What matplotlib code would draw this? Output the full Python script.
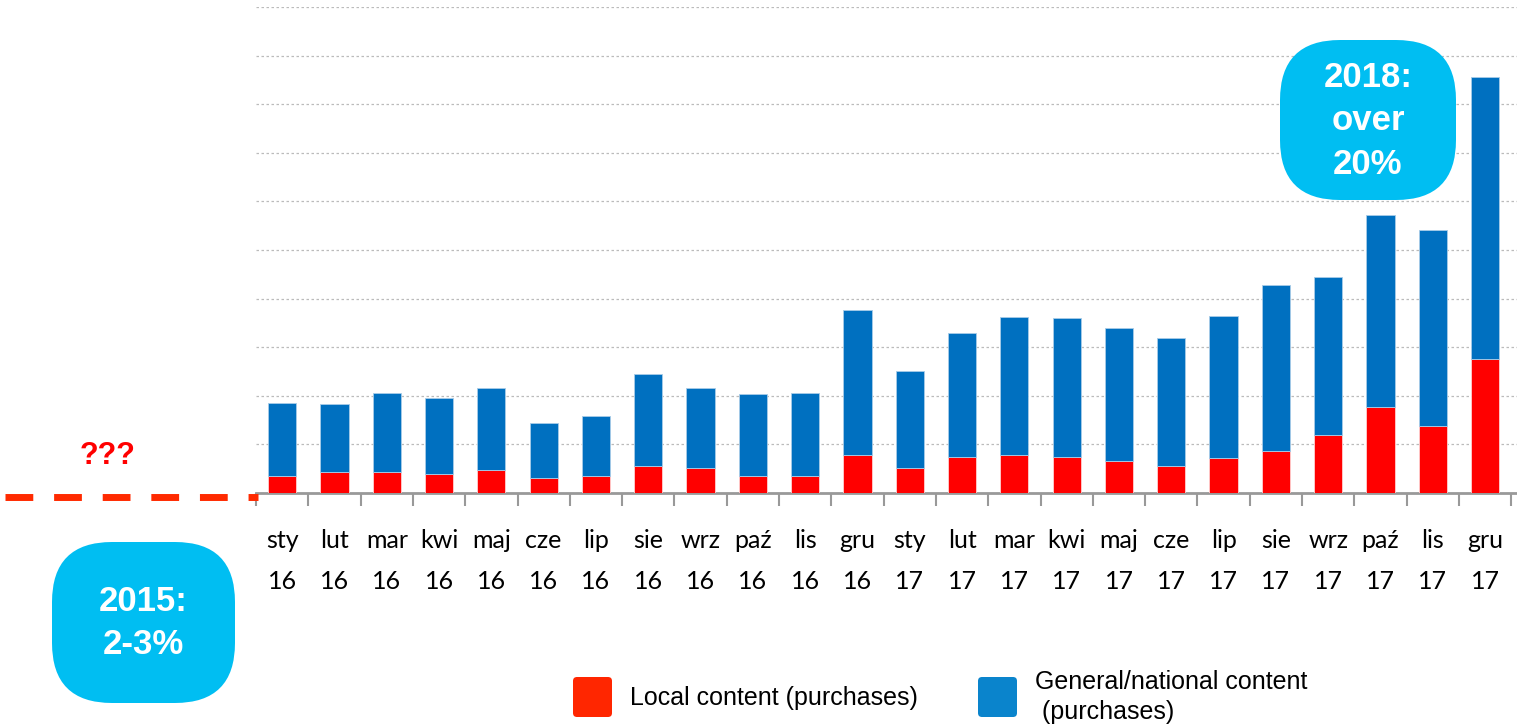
import matplotlib
matplotlib.use("Agg")
import matplotlib.pyplot as plt
from matplotlib.patches import FancyBboxPatch
from matplotlib.lines import Line2D
import numpy as np

months = ["sty", "lut", "mar", "kwi", "maj", "cze", "lip", "sie", "wrz", "paź", "lis", "gru"]
years = ["16"] * 12 + ["17"] * 12
labels = [m + "\n" + y for m, y in zip(months * 2, years)]

# bar heights (grid units, top gridline = 10)
local = [0.36, 0.44, 0.44, 0.39, 0.47, 0.31, 0.34, 0.55, 0.51, 0.36, 0.36, 0.78,
         0.51, 0.75, 0.79, 0.74, 0.65, 0.55, 0.72, 0.86, 1.19, 1.77, 1.38, 2.76]
total = [1.86, 1.83, 2.05, 1.95, 2.16, 1.44, 1.59, 2.45, 2.17, 2.03, 2.06, 3.77,
         2.51, 3.29, 3.63, 3.60, 3.39, 3.19, 3.64, 4.28, 4.45, 5.71, 5.41, 8.56]
general = [t - l for t, l in zip(total, local)]

RED = "#FF0000"
BLUE = "#0070C0"
SKY = "#00BEF2"

fig = plt.figure(figsize=(15.17, 7.24), dpi=100)
ax = fig.add_axes([256 / 1517, 231 / 724, 1261 / 1517, 486 / 724])

x = np.arange(len(labels))
ax.bar(x, local, width=0.54, color=RED, edgecolor="#ffd0d0", linewidth=0.6, zorder=3)
ax.bar(x, general, bottom=local, width=0.54, color=BLUE, edgecolor="#a8cce8", linewidth=0.6, zorder=3)

ax.set_xlim(-0.5, 23.61)
ax.set_ylim(0, 10)
ax.set_yticks(np.arange(0, 11, 1))
ax.yaxis.grid(True, color="#bbbbbb", linestyle=(0, (2, 2)), linewidth=0.9, zorder=0)
ax.tick_params(axis="y", length=0, labelleft=False)
for s in ["top", "right", "left"]:
    ax.spines[s].set_visible(False)
ax.spines["bottom"].set_color("#999999")
ax.spines["bottom"].set_linewidth(2)

ax.set_xticks(x)
ax.set_xticklabels(labels, fontsize=18, family="Lato", linespacing=1.95)
ax.set_xticks(np.arange(-0.5, 24, 1), minor=True)
ax.tick_params(axis="x", which="major", length=0, pad=26)
ax.tick_params(axis="x", which="minor", length=9, width=1.5, color="#999999")

# red dashed 2015 level
fig.add_artist(Line2D([5 / 1517, 258 / 1517], [227 / 724, 227 / 724], transform=fig.transFigure,
                      color="#FF2A00", linewidth=5, linestyle=(0, (4, 3))))
fig.text(108 / 1517, 268 / 724, "???", color="#FF0000", fontsize=22, fontweight="bold",
         family="Liberation Sans", ha="center", va="center")

# blobs
for (x0, x1, y0, y1, txt, cy) in [(52, 235, 542, 703, "2015:\n2-3%", 623),
                                  (1280, 1456, 40, 200, "2018:\nover\n20%", 121)]:
    box = FancyBboxPatch((x0 / 100, (724 - y1) / 100), (x1 - x0) / 100, (y1 - y0) / 100,
                         boxstyle="round,pad=0,rounding_size=0.6", transform=fig.dpi_scale_trans,
                         facecolor=SKY, edgecolor="none", zorder=5)
    fig.add_artist(box)
    fig.text((x0 + x1) / 2 / 1517, (724 - cy) / 724, txt, color="white", fontsize=25,
             fontweight="bold", family="Liberation Sans", ha="center", va="center",
             linespacing=1.4, zorder=6)

# legend
for (lx, col, txt, ty, ls) in [(573, "#FF2600", "Local content (purchases)", 698, 1.1),
                               (978, "#0A84CC", "General/national content\n (purchases)", 697, 1.3)]:
    fig.add_artist(FancyBboxPatch((lx / 100 + 0.03, 0.10), 0.33, 0.34,
                                  boxstyle="round,pad=0.03,rounding_size=0.04",
                                  transform=fig.dpi_scale_trans, facecolor=col, edgecolor="none"))
    fig.text((lx + 57) / 1517, (724 - ty) / 724, txt, fontsize=18, family="Liberation Sans",
             ha="left", va="center", linespacing=ls)

fig.savefig("out.png", dpi=100)
